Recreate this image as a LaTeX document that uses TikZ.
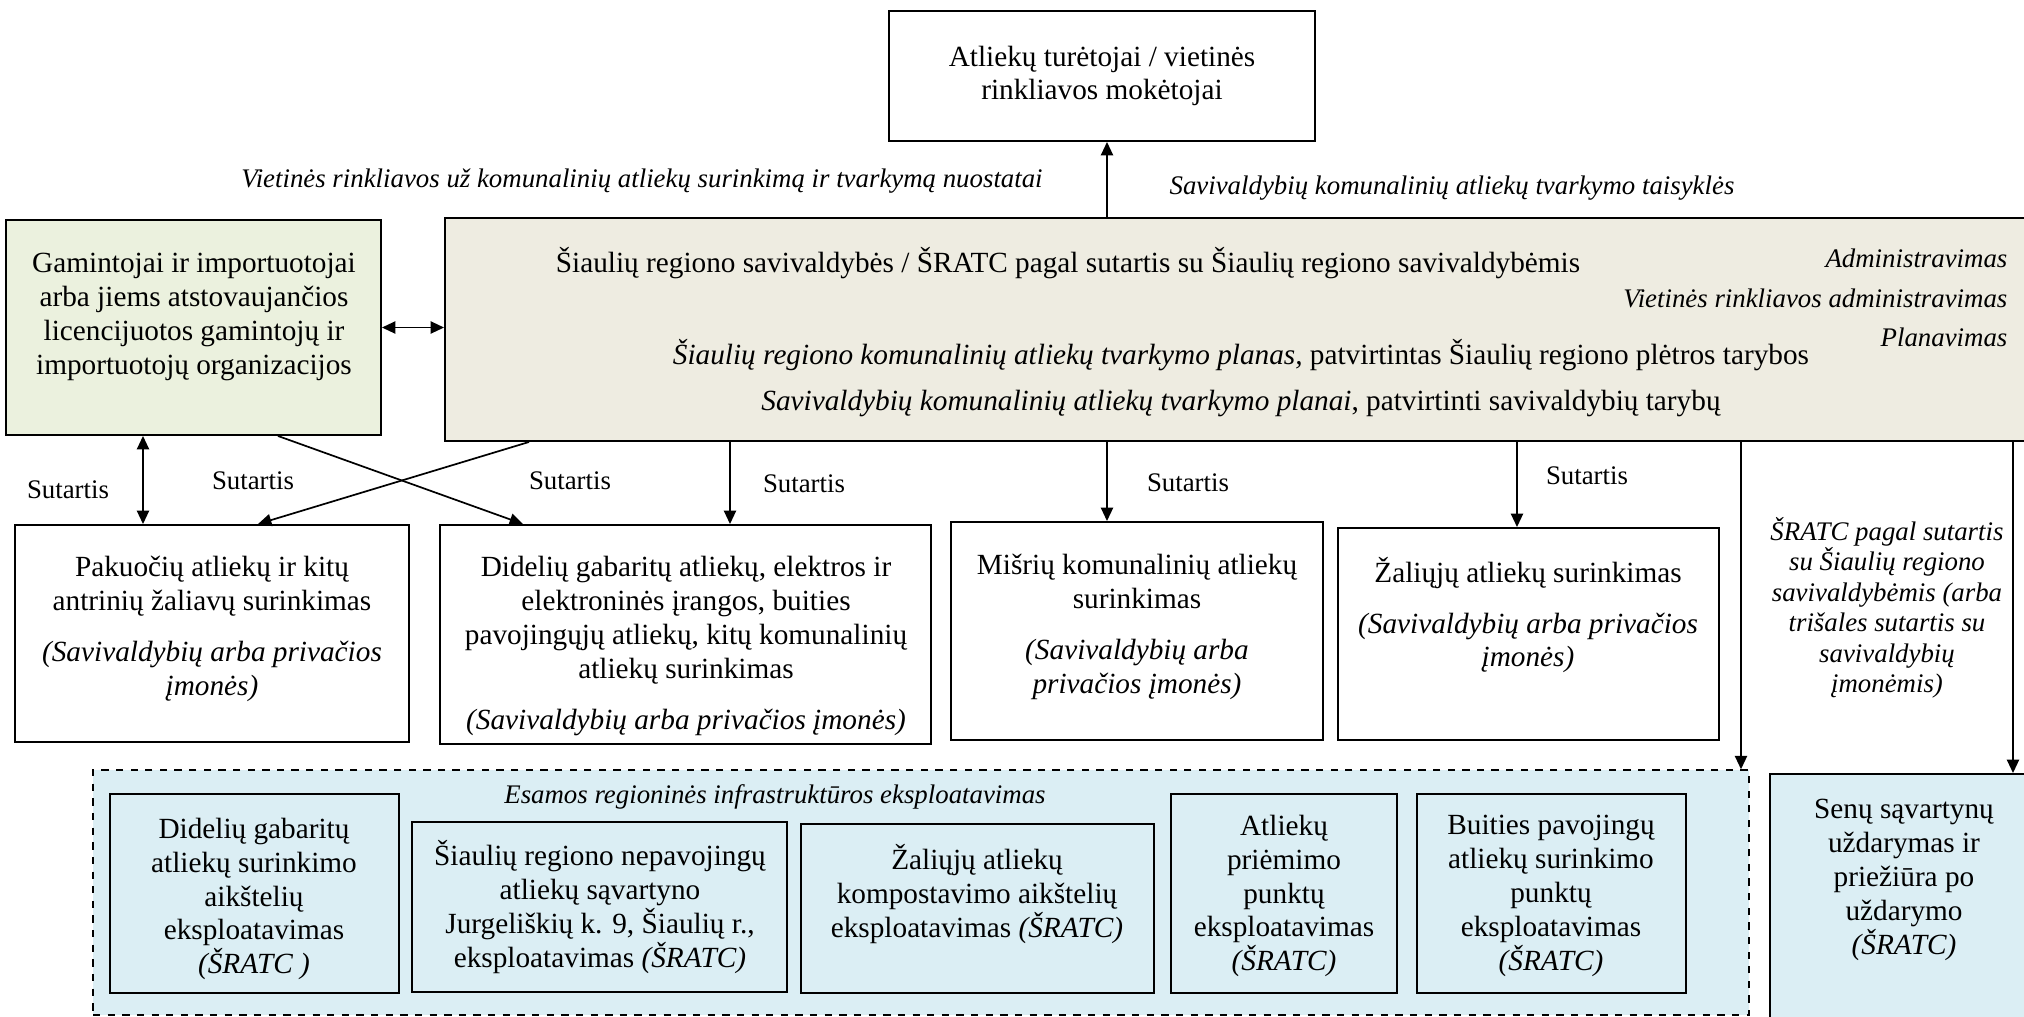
\documentclass[tikz,border=0pt]{standalone}
\usepackage{fontspec}
\setmainfont{Liberation Serif}
\usetikzlibrary{arrows.meta,fit}

\definecolor{zalia}{HTML}{EBF1DE}
\definecolor{smelio}{HTML}{EEECE1}
\definecolor{melyna}{HTML}{DBEEF4}

\tikzset{
  >={Triangle[length=5.5pt,width=5pt]},
  box/.style={draw, line width=0.8pt, inner sep=0pt},
  vidus/.style={draw, line width=0.6pt, inner sep=0pt, fill=melyna},
  txt/.style={font=\fontsize{12}{13.9}\selectfont, align=center},
  mazas/.style={font=\fontsize{11}{12.5}\selectfont\itshape},
  sut/.style={font=\fontsize{11}{12.5}\selectfont},
  rod/.style={line width=0.7pt}
}

\begin{document}
\begin{tikzpicture}[x=0.41pt,y=-0.41pt]
\useasboundingbox (0,0) rectangle (2024,1016);
\foreach \n/\x in {x0/1107,x1/143,x2/278,x3/523,x4/529,x5/258,x6/730,x7/1517,x8/1741,x9/2013}
  \coordinate (\n) at (\x,0);
% virsus
\node[box,fit={(889,11) (1315,141)}] (turet) {};
\node[txt] (tturet) at (turet.center) {Atliekų turėtojai / vietinės\\rinkliavos mokėtojai};
\node[mazas] (lnuost) at (642,181) {Vietinės rinkliavos už komunalinių atliekų surinkimą ir tvarkymą nuostatai};
\node[mazas] (ltaisy) at (1452,188) {Savivaldybių komunalinių atliekų tvarkymo taisyklės};
\node[box,fill=zalia,fit={(6,220) (381,435)}] (gam) {};
\node[txt] (tgam) at (194,317) {Gamintojai ir importuotojai\\arba jiems atstovaujančios\\licencijuotos gamintojų ir\\importuotojų organizacijos};
\node[box,fill=smelio,fit={(445,218) (2040,441)}] (sav) {};
\node[txt] (tsav1) at (1068,263) {Šiaulių regiono savivaldybės / ŠRATC pagal sutartis su Šiaulių regiono savivaldybėmis};
\node[mazas,anchor=east] (tadm) at (2016,258) {Administravimas};
\node[mazas,anchor=east] (trink) at (2016,298) {Vietinės rinkliavos administravimas};
\node[mazas,anchor=east] (tplan) at (2016,337) {Planavimas};
\node[txt] (tsav2) at (1241,355) {\textit{Šiaulių regiono komunalinių atliekų tvarkymo planas,} patvirtintas Šiaulių regiono plėtros tarybos};
\node[txt] (tsav3) at (1241,403) {\textit{Savivaldybių komunalinių atliekų tvarkymo planai}, patvirtinti savivaldybių tarybų};
% surinkimas
\node[box,fit={(15,525) (409,742)}] (pak) {};
\node[txt] (tpak) at (212,629) {Pakuočių atliekų ir kitų\\antrinių žaliavų surinkimas\\[7pt]\textit{(Savivaldybių arba privačios}\\\textit{įmonės)}};
\node[box,fit={(440,525) (931,744)}] (did) {};
\node[txt] (tdid) at (686,646) {Didelių gabaritų atliekų, elektros ir\\elektroninės įrangos, buities\\pavojingųjų atliekų, kitų komunalinių\\atliekų surinkimas\\[7pt]\textit{(Savivaldybių arba privačios įmonės)}};
\node[box,fit={(951,522) (1323,740)}] (mis) {};
\node[txt] (tmis) at (1137,627) {Mišrių komunalinių atliekų\\surinkimas\\[7pt]\textit{(Savivaldybių arba}\\\textit{privačios įmonės)}};
\node[box,fit={(1338,528) (1719,740)}] (zal) {};
\node[txt] (tzal) at (1528,615) {Žaliųjų atliekų surinkimas\\[7pt]\textit{(Savivaldybių arba privačios}\\\textit{įmonės)}};
\node[mazas,align=center] (tsrat) at (1887,608) {ŠRATC pagal sutartis\\su Šiaulių regiono\\savivaldybėmis (arba\\trišales sutartis su\\savivaldybių\\įmonėmis)};
\node[sut] (s1) at (68,490) {Sutartis};
\node[sut] (s2) at (253,481) {Sutartis};
\node[sut] (s3) at (570,481) {Sutartis};
\node[sut] (s4) at (804,484) {Sutartis};
\node[sut] (s5) at (1188,483) {Sutartis};
\node[sut] (s6) at (1587,476) {Sutartis};
% infrastruktura
\node[box,dashed,line width=0.6pt,fill=melyna,fit={(93,770) (1749,1015)}] (esam) {};
\node[mazas] (tesam) at (775,797) {Esamos regioninės infrastruktūros eksploatavimas};
\node[vidus,fit={(110,794) (399,993)}] (aik) {};
\node[txt] (taik) at (254,899) {Didelių gabaritų\\atliekų surinkimo\\aikštelių\\eksploatavimas\\\textit{(ŠRATC )}};
\node[vidus,fit={(412,822) (787,992)}] (savart) {};
\node[txt] (tsavart) at (600,907) {Šiaulių regiono nepavojingų\\atliekų sąvartyno\\Jurgeliškių k. 9, Šiaulių r.,\\eksploatavimas \textit{(ŠRATC)}};
\node[vidus,fit={(801,824) (1154,993)}] (komp) {};
\node[txt] (tkomp) at (977,894) {Žaliųjų atliekų\\kompostavimo aikštelių\\eksploatavimas \textit{(ŠRATC)}};
\node[vidus,fit={(1171,794) (1397,993)}] (prie) {};
\node[txt] (tprie) at (1284,896) {Atliekų\\priėmimo\\punktų\\eksploatavimas\\\textit{(ŠRATC)}};
\node[vidus,fit={(1417,794) (1686,993)}] (buit) {};
\node[txt] (tbuit) at (1551,896) {Buities pavojingų\\atliekų surinkimo\\punktų\\eksploatavimas\\\textit{(ŠRATC)}};
\node[box,fill=melyna,fit={(1770,774) (2040,1030)}] (sen) {};
\node[txt] (tsen) at (1904,880) {Senų sąvartynų\\uždarymas ir\\priežiūra po\\uždarymo\\\textit{(ŠRATC)}};
% rodykles
\draw[rod,->] (sav.north -| x0) -- (turet.south -| x0);
\draw[rod,<->] (gam.east) -- (gam.east -| sav.west);
\draw[rod,<->] (gam.south -| x1) -- (pak.north -| x1);
\draw[rod,->] (gam.south -| x2) -- (did.north -| x3);
\draw[rod,->] (sav.south -| x4) -- (pak.north -| x5);
\draw[rod,->] (sav.south -| x6) -- (did.north -| x6);
\draw[rod,->] (sav.south -| x0) -- (mis.north -| x0);
\draw[rod,->] (sav.south -| x7) -- (zal.north -| x7);
\draw[rod,->] (sav.south -| x8) -- (esam.north -| x8);
\draw[rod,->] (sav.south -| x9) -- (sen.north -| x9);
\end{tikzpicture}
\end{document}
